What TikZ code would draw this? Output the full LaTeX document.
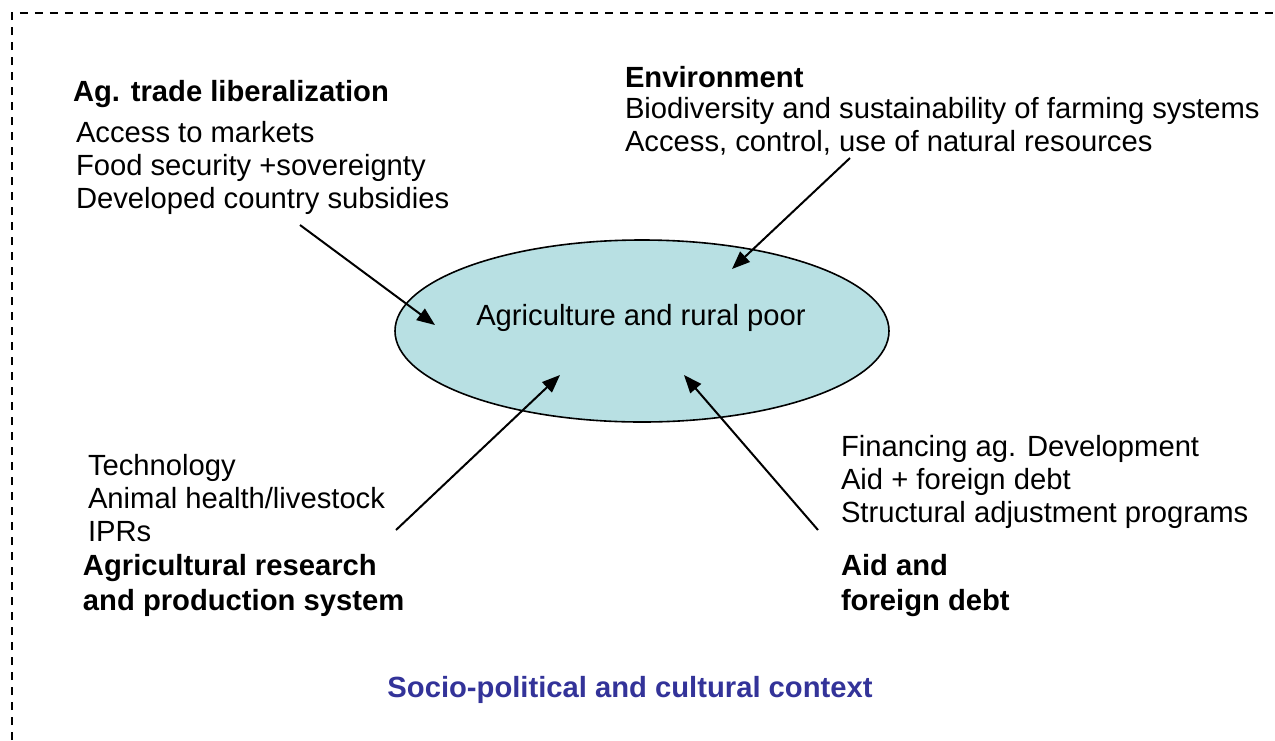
\documentclass[tikz,border=0pt]{standalone}
\usepackage{fontspec}
\setmainfont{Liberation Sans}
\usetikzlibrary{arrows.meta, positioning, shapes.geometric}
\definecolor{cpool}{HTML}{B8E0E3}
\definecolor{ccontext}{HTML}{333399}
\tikzset{
  every picture/.style={line width=1pt},
  body/.style={font=\fontsize{14.6}{16.5}\selectfont, align=left, anchor=base west, inner sep=0pt},
  head/.style={body, font=\fontsize{14.6}{17.5}\selectfont\bfseries},
  arrow/.style={-{Triangle[length=9pt, width=7pt]}, line width=1pt},
  frame/.style={dash pattern=on 4pt off 3.5pt, line width=0.8pt},
}

\begin{document}
\begin{tikzpicture}[x=0.5pt, y=-0.5pt,
  pool/.style={ellipse, draw, fill=cpool, line width=0.8pt, minimum width=247pt, minimum height=91pt, inner sep=0pt}]
  \useasboundingbox (0,0) rectangle (1275,740);
  \draw[frame] (12,740) -- (12,13) -- (1275,13);
  \node[pool] (poor) at (642,331) {};
  \node[font=\fontsize{14.6}{17}\selectfont, anchor=base, inner sep=0pt] (poortext) at (641,325) {Agriculture and rural poor};
  % text blocks: anchored on the baseline of their last line
  \node[head] (trade) at (72,101) {Ag. trade liberalization};
  \node[body] (tradelist) at (75,208) {Access to markets\\Food security +sovereignty\\Developed country subsidies};
  \node[head] (env) at (624,87) {Environment};
  \node[body] (envlist) at (624,151) {Biodiversity and sustainability of farming systems\\Access, control, use of natural resources};
  \node[body] (reslist) at (87,541) {Technology\\Animal health/livestock\\IPRs};
  \node[head] (research) at (82,610) {Agricultural research\\and production system};
  \node[body] (aidlist) at (840,522) {Financing ag. Development\\Aid + foreign debt\\Structural adjustment programs};
  \node[head] (aid) at (840,610) {Aid and\\foreign debt};
  \node[head, text=ccontext, font=\fontsize{14.6}{17}\selectfont\bfseries, anchor=base] (context) at (630,697) {Socio-political and cultural context};
  \coordinate (trade-out) at (300,225);
  \coordinate (trade-in) at (435,325);
  \coordinate (env-out) at (850,158);
  \coordinate (env-in) at (732,269);
  \coordinate (res-out) at (396,530);
  \coordinate (res-in) at (560,375);
  \coordinate (aid-out) at (818,530);
  \coordinate (aid-in) at (684,375);
  \draw[arrow] (trade-out) -- (trade-in);
  \draw[arrow] (env-out) -- (env-in);
  \draw[arrow] (res-out) -- (res-in);
  \draw[arrow] (aid-out) -- (aid-in);
\end{tikzpicture}
\end{document}
